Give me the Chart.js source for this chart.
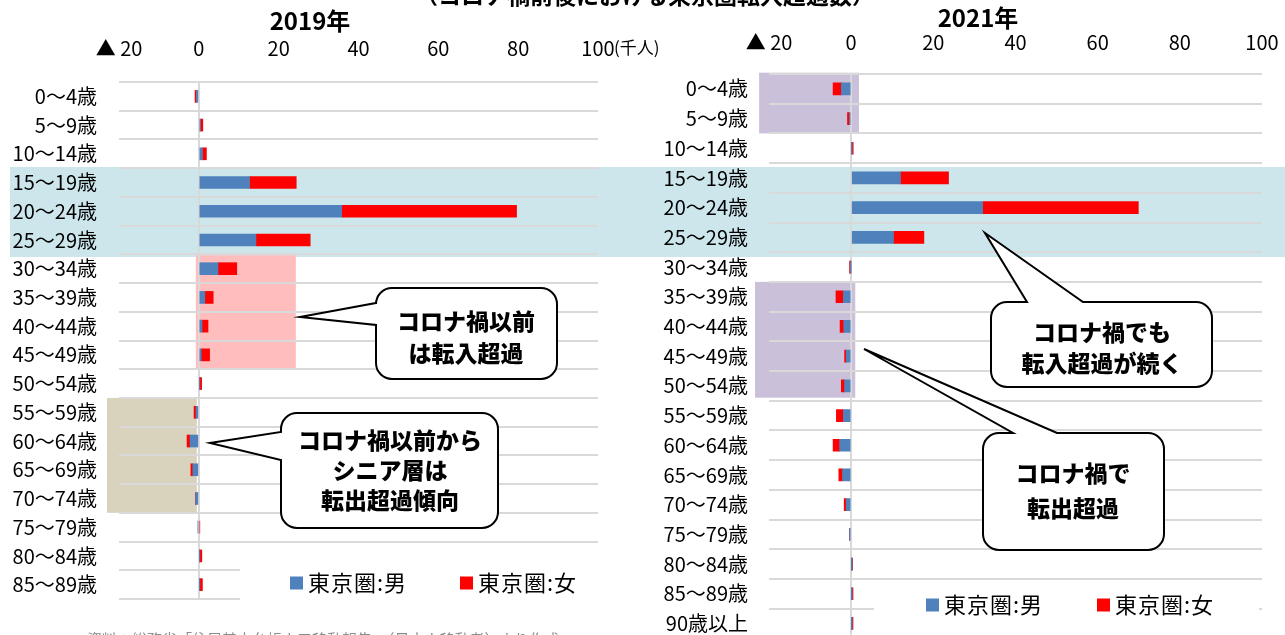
<!DOCTYPE html>
<html lang="ja">
<head>
<meta charset="utf-8">
<script src="https://cdn.jsdelivr.net/npm/chart.js@4.4.1/dist/chart.umd.min.js"></script>
<style>
  html, body { margin: 0; padding: 0; background: #fff; }
  body { width: 1285px; height: 635px; overflow: hidden; position: relative; font-family: "Noto Sans CJK JP", sans-serif; }
  #band { position: absolute; left: 10px; top: 167px; width: 1275px; height: 90px; background: #CCE6EC; }
  .wrap { position: absolute; top: 0; }
  #w2019 { left: 0; width: 680px; height: 635px; }
  #w2021 { left: 640px; width: 645px; height: 660px; }
  .ttl { position: absolute; font-weight: 700; color: #000; white-space: nowrap; transform: translate(-50%, -50%); line-height: 1; }
  #note { position: absolute; left: 87px; top: 631px; font-size: 15px; color: #8c8c8c; white-space: nowrap; line-height: 1; }
</style>
</head>
<body>
<div id="band"></div>
<div class="wrap" id="w2019"><canvas id="c2019" width="680" height="635"></canvas></div>
<div class="wrap" id="w2021"><canvas id="c2021" width="645" height="660"></canvas></div>
<div class="ttl" style="left:645px; top:-6px; font-size:23px;">（コロナ禍前後における東京圏転入超過数）</div>
<div class="ttl" style="left:310px; top:20px; font-size:24px;">2019年</div>
<div class="ttl" style="left:978px; top:17px; font-size:24px;">2021年</div>
<div id="note">資料：総務省「住民基本台帳人口移動報告」（日本人移動者）より作成</div>
<script>
// 年齢階級（千人単位の転入超過数、マイナスは転出超過）
const AGE_2019 = ['0〜4歳', '5〜9歳', '10〜14歳', '15〜19歳', '20〜24歳', '25〜29歳',
  '30〜34歳', '35〜39歳', '40〜44歳', '45〜49歳', '50〜54歳', '55〜59歳',
  '60〜64歳', '65〜69歳', '70〜74歳', '75〜79歳', '80〜84歳', '85〜89歳'];
const MALE_2019 = [-0.6, 0.4, 0.9, 12.7, 35.8, 14.3, 4.8, 1.5, 0.8, 0.6, 0.2, -0.7,
  -2.2, -1.5, -0.8, -0.2, 0.15, 0.15];
const FEMALE_2019 = [-0.35, 0.6, 1.0, 11.7, 43.8, 13.6, 4.7, 2.1, 1.5, 2.1, 0.5, -0.5,
  -0.75, -0.5, -0.05, 0.25, 0.6, 0.75];

const AGE_2021 = ['0〜4歳', '5〜9歳', '10〜14歳', '15〜19歳', '20〜24歳', '25〜29歳',
  '30〜34歳', '35〜39歳', '40〜44歳', '45〜49歳', '50〜54歳', '55〜59歳',
  '60〜64歳', '65〜69歳', '70〜74歳', '75〜79歳', '80〜84歳', '85〜89歳', '90歳以上'];
const MALE_2021 = [-2.4, -0.4, 0.1, 12.0, 32.0, 10.3, -0.05, -1.9, -1.8, -1.2, -1.6, -1.9,
  -2.8, -2.1, -1.2, -0.4, 0.05, 0.05, 0.05];
const FEMALE_2021 = [-2.0, -0.5, 0.4, 11.7, 37.9, 7.4, -0.35, -1.8, -0.9, -0.4, -0.8, -1.7,
  -1.6, -0.9, -0.5, -0.05, 0.3, 0.4, 0.4];

const X_TICKS = [-20, 0, 20, 40, 60, 80, 100];
const SERIES_NAMES = ['東京圏:男', '東京圏:女'];
const SERIES_COLORS = ['#4F81BD', '#FF0000'];

const FONT = '"Noto Sans CJK JP", "Noto Sans", sans-serif';
const GRID = '#D9D9D9';

// 角丸の吹き出し（白塗り＋黒枠）
function bubble(ctx, b) {
  const { x, y, w, h, r, side, base, tip, lines, lineGap } = b;
  ctx.save();
  ctx.beginPath();
  if (side === 'left') {
    ctx.moveTo(x + r, y);
    ctx.arcTo(x + w, y, x + w, y + h, r);
    ctx.arcTo(x + w, y + h, x, y + h, r);
    ctx.arcTo(x, y + h, x, y, r);
    ctx.lineTo(x, base[1]);
    ctx.lineTo(tip[0], tip[1]);
    ctx.lineTo(x, base[0]);
    ctx.arcTo(x, y, x + w, y, r);
  } else {
    ctx.moveTo(x, y + r);
    ctx.arcTo(x, y, x + w, y, r);
    ctx.lineTo(base[0], y);
    ctx.lineTo(tip[0], tip[1]);
    ctx.lineTo(base[1], y);
    ctx.arcTo(x + w, y, x + w, y + h, r);
    ctx.arcTo(x + w, y + h, x, y + h, r);
    ctx.arcTo(x, y + h, x, y, r);
  }
  ctx.closePath();
  ctx.fillStyle = '#fff';
  ctx.fill();
  ctx.lineWidth = 2;
  ctx.lineJoin = 'miter';
  ctx.strokeStyle = '#000';
  ctx.stroke();
  ctx.fillStyle = '#000';
  ctx.font = '900 23px ' + FONT;
  ctx.textAlign = 'center';
  ctx.textBaseline = 'middle';
  lines.forEach((t, i) => ctx.fillText(t, b.tx, b.ty + i * lineGap));
  ctx.restore();
}

const decor = {
  id: 'decor',
  beforeDraw(chart, args, opts) {
    const { ctx } = chart;
    const xs = chart.scales.x, ys = chart.scales.y;
    const step = ys.height / chart.data.labels.length;
    ctx.save();
    (opts.bands || []).forEach(bd => {
      const top = ys.top + bd.rows[0] * step + bd.dy[0];
      const bot = ys.top + (bd.rows[1] + 1) * step + bd.dy[1];
      const l = xs.getPixelForValue(bd.x[0]);
      const r = xs.getPixelForValue(bd.x[1]);
      ctx.fillStyle = bd.color;
      ctx.fillRect(l, top, r - l, bot - top);
    });
    ctx.restore();
  },
  afterDraw(chart, args, opts) {
    const { ctx } = chart;
    ctx.save();
    // 凡例（白地で目盛線を隠す）
    const lg = opts.legend;
    ctx.fillStyle = '#fff';
    ctx.fillRect(lg.box[0], lg.box[1], lg.box[2], lg.box[3]);
    ctx.font = '22px ' + FONT;
    ctx.letterSpacing = '1px';
    ctx.textBaseline = 'middle';
    ctx.textAlign = 'left';
    chart.data.datasets.forEach((ds, i) => {
      const sx = lg.items[i];
      ctx.fillStyle = ds.backgroundColor;
      ctx.fillRect(sx, lg.y - 6.5, 13, 13);
      ctx.fillStyle = '#000';
      ctx.fillText(ds.label, sx + 18, lg.y);
    });
    ctx.letterSpacing = '0px';
    // 単位
    if (opts.unit) {
      const xs = chart.scales.x;
      ctx.font = '17px ' + FONT;
      ctx.fillStyle = '#000';
      ctx.fillText(opts.unit, xs.getPixelForValue(100) + 16, opts.unitY);
    }
    ctx.restore();
    (opts.bubbles || []).forEach(b => bubble(ctx, b));
  }
};

function makeChart(id, labels, male, female, dims, decorOpts) {
  const xCallback = v => (v < 0 ? '▲ ' + Math.abs(v) : String(v));
  return new Chart(document.getElementById(id), {
    type: 'bar',
    data: {
      labels,
      datasets: [
        { label: SERIES_NAMES[0], data: male, backgroundColor: SERIES_COLORS[0], barThickness: 12 },
        { label: SERIES_NAMES[1], data: female, backgroundColor: SERIES_COLORS[1], barThickness: 12 }
      ]
    },
    options: {
      indexAxis: 'y',
      responsive: false,
      maintainAspectRatio: false,
      animation: false,
      events: [],
      layout: { padding: dims.padding },
      plugins: { legend: { display: false }, tooltip: { enabled: false }, decor: decorOpts },
      scales: {
        x: {
          type: 'linear', position: 'top', stacked: true, min: -20, max: 100,
          afterBuildTicks: s => { s.ticks = X_TICKS.map(v => ({ value: v })); },
          afterFit: s => { s.height = dims.xh; s.paddingLeft = 0; s.paddingRight = 0; },
          ticks: { callback: xCallback, color: '#000', font: { family: FONT, size: 20 }, padding: dims.xpad, maxRotation: 0 },
          grid: { drawTicks: false, lineWidth: 2, color: c => (c.tick && c.tick.value === 0 ? GRID : 'rgba(0,0,0,0)') },
          border: { display: false }
        },
        y: {
          stacked: true,
          afterFit: s => { s.width = dims.yw; s.paddingTop = 0; s.paddingBottom = 0; },
          ticks: { autoSkip: false, color: '#000', font: { family: FONT, size: 20 }, padding: dims.ypad },
          grid: { offset: true, drawTicks: false, color: GRID, lineWidth: 2 },
          border: { display: false }
        }
      }
    },
    plugins: [decor]
  });
}

makeChart('c2019', AGE_2019, MALE_2019, FEMALE_2019,
  { padding: { left: 0, top: 0, right: 82, bottom: 36 }, xh: 82, yw: 119, xpad: 22, ypad: 22 },
  {
    bands: [
      { rows: [6, 9], x: [-0.75, 24.3], dy: [1, 0], color: '#FFBDBD' },
      { rows: [11, 14], x: [-23, -0.5], dy: [0, 0], color: '#D9D3BD' }
    ],
    legend: { box: [240, 557, 370, 48], y: 583, items: [290, 460] },
    unit: '(千人)', unitY: 48,
    bubbles: [
      { x: 376, y: 288, w: 181, h: 91, r: 16, side: 'left', base: [303, 325], tip: [300, 317],
        lines: ['コロナ禍以前', 'は転入超過'], tx: 466, ty: 321, lineGap: 32 },
      { x: 281, y: 413, w: 217, h: 115, r: 16, side: 'left', base: [432, 460], tip: [210, 443],
        lines: ['コロナ禍以前から', 'シニア層は', '転出超過傾向'], tx: 390, ty: 440, lineGap: 30 }
    ]
  });

makeChart('c2021', AGE_2021, MALE_2021, FEMALE_2021,
  { padding: { left: 0, top: 0, right: 23, bottom: 21.7 }, xh: 74, yw: 129, xpad: 20, ypad: 21 },
  {
    bands: [
      { rows: [0, 1], x: [-22.4, 1.9], dy: [-1.3, 0], color: '#CBC0D9' },
      { rows: [7, 10], x: [-23.4, 1.0], dy: [0, -3], color: '#CBC0D9' }
    ],
    legend: { box: [234, 588, 385, 60], y: 605, items: [286, 457] },
    bubbles: [
      { x: 351, y: 302, w: 221, h: 85, r: 16, side: 'top', base: [387, 443], tip: [345, 233],
        lines: ['コロナ禍でも', '転入超過が続く'], tx: 462, ty: 332, lineGap: 31 },
      { x: 343, y: 433, w: 181, h: 117, r: 16, side: 'top', base: [373, 417], tip: [224, 349],
        lines: ['コロナ禍で', '転出超過'], tx: 433, ty: 473, lineGap: 35 }
    ]
  });
</script>
</body>
</html>
